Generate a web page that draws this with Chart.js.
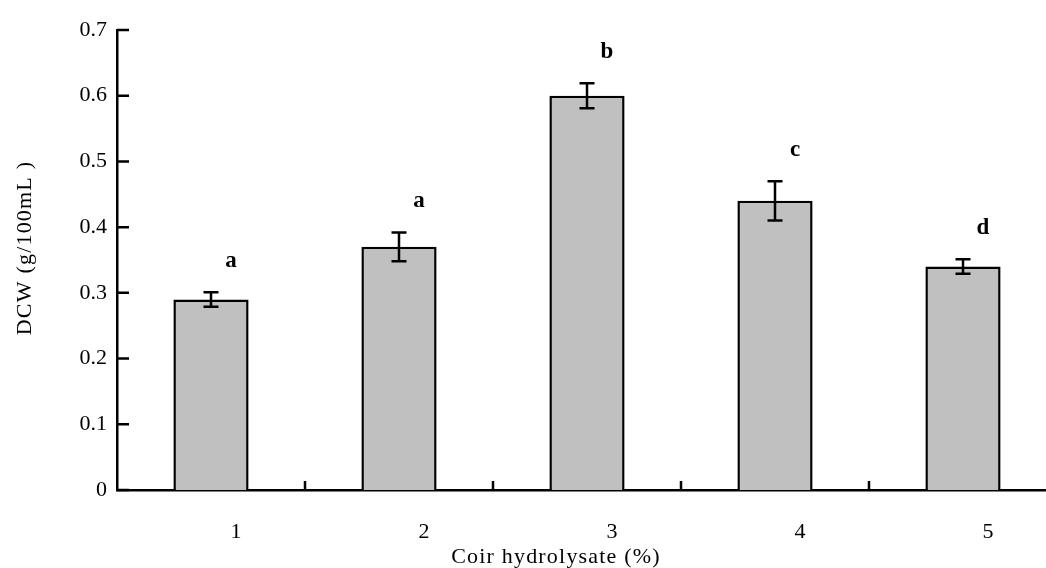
<!DOCTYPE html>
<html>
<head>
<meta charset="utf-8">
<script src="https://cdn.jsdelivr.net/npm/chart.js@4/dist/chart.umd.min.js"></script>
<style>
  html, body { margin: 0; padding: 0; background: #fff; overflow: hidden; }
  #wrap { width: 1046px; height: 568px; overflow: hidden; }
  canvas { display: block; }
</style>
</head>
<body>
<div id="wrap"><canvas id="chart" width="1060" height="568"></canvas></div>
<script>
// values
const categories = ["1", "2", "3", "4", "5"];
const dcwMeans = [0.29, 0.37, 0.60, 0.44, 0.34];
const dcwErrors = [0.011, 0.022, 0.019, 0.030, 0.011];
const sigLetters = ["a", "a", "b", "c", "d"];
const yTickValues = [0, 0.1, 0.2, 0.3, 0.4, 0.5, 0.6, 0.7];
const xTitle = "Coir hydrolysate (%)";
const yTitle = "DCW (g/100mL )";

const FONT = "'Liberation Serif', 'Times New Roman', serif";

// error bars + significance letters
const errorBars = {
  id: "errorBars",
  afterDatasetsDraw(chart) {
    const ctx = chart.ctx;
    const y = chart.scales.y;
    const meta = chart.getDatasetMeta(0);
    ctx.save();
    ctx.strokeStyle = "#000";
    ctx.lineWidth = 2.5;
    meta.data.forEach((bar, i) => {
      const top = y.getPixelForValue(dcwMeans[i] + dcwErrors[i]);
      const bot = y.getPixelForValue(dcwMeans[i] - dcwErrors[i]);
      ctx.beginPath();
      ctx.moveTo(bar.x, top);
      ctx.lineTo(bar.x, bot);
      ctx.moveTo(bar.x - 7.5, top);
      ctx.lineTo(bar.x + 7.5, top);
      ctx.moveTo(bar.x - 7.5, bot);
      ctx.lineTo(bar.x + 7.5, bot);
      ctx.stroke();

      ctx.fillStyle = "#000";
      ctx.font = "bold 23px " + FONT;
      ctx.textAlign = "center";
      ctx.textBaseline = "middle";
      ctx.fillText(sigLetters[i], bar.x + 20, top - 31);
    });
    ctx.restore();
  },
};

// inward tick marks and axis titles
const axisDecor = {
  id: "axisDecor",
  afterDraw(chart) {
    const ctx = chart.ctx;
    const area = chart.chartArea;
    const x = chart.scales.x;
    const y = chart.scales.y;
    ctx.save();
    ctx.strokeStyle = "#000";
    ctx.lineWidth = 2.5;
    ctx.beginPath();
    yTickValues.forEach((v) => {
      const py = y.getPixelForValue(v);
      ctx.moveTo(area.left, py);
      ctx.lineTo(area.left + 12, py);
    });
    for (let i = 0; i < categories.length - 1; i++) {
      const px = x.getPixelForValue(i + 0.5);
      ctx.moveTo(px, area.bottom);
      ctx.lineTo(px, area.bottom - 9);
    }
    ctx.stroke();

    ctx.fillStyle = "#000";
    ctx.font = "22px " + FONT;
    ctx.letterSpacing = "1.2px";
    ctx.textAlign = "center";
    ctx.textBaseline = "middle";
    ctx.fillText(xTitle, area.left + 439, area.bottom + 67);

    ctx.translate(25, area.top + 218);
    ctx.rotate(-Math.PI / 2);
    ctx.fillText(yTitle, 0, 0);
    ctx.restore();
  },
};

new Chart(document.getElementById("chart"), {
  type: "bar",
  data: {
    labels: categories,
    datasets: [
      {
        data: dcwMeans,
        backgroundColor: "#c0c0c0",
        borderColor: "#000",
        borderWidth: 2.5,
        barPercentage: 0.4,
        categoryPercentage: 1.0,
      },
    ],
  },
  options: {
    responsive: false,
    animation: false,
    devicePixelRatio: 1,
    layout: { padding: { top: 30, right: 3, left: 0, bottom: 0 } },
    plugins: {
      legend: { display: false },
      tooltip: { enabled: false },
    },
    scales: {
      x: {
        grid: { display: false },
        border: { display: true, color: "#000", width: 2.5 },
        ticks: {
          color: "#000",
          font: { family: FONT, size: 22 },
          padding: 21,
          labelOffset: 25,
          maxRotation: 0,
        },
        afterFit(scale) {
          scale.height = 78;
          scale.paddingLeft = 0;
          scale.paddingRight = 0;
        },
      },
      y: {
        min: 0,
        max: 0.7,
        grid: { display: false },
        border: { display: true, color: "#000", width: 2.5 },
        afterBuildTicks(scale) {
          scale.ticks = yTickValues.map((v) => ({ value: v }));
        },
        ticks: {
          color: "#000",
          font: { family: FONT, size: 22 },
          padding: 2,
          callback: (v) => (v === 0 ? "0" : v.toFixed(1)),
        },
        afterFit(scale) {
          scale.width = 117;
          scale.paddingTop = 0;
          scale.paddingBottom = 0;
        },
      },
    },
  },
  plugins: [errorBars, axisDecor],
});
</script>
</body>
</html>
